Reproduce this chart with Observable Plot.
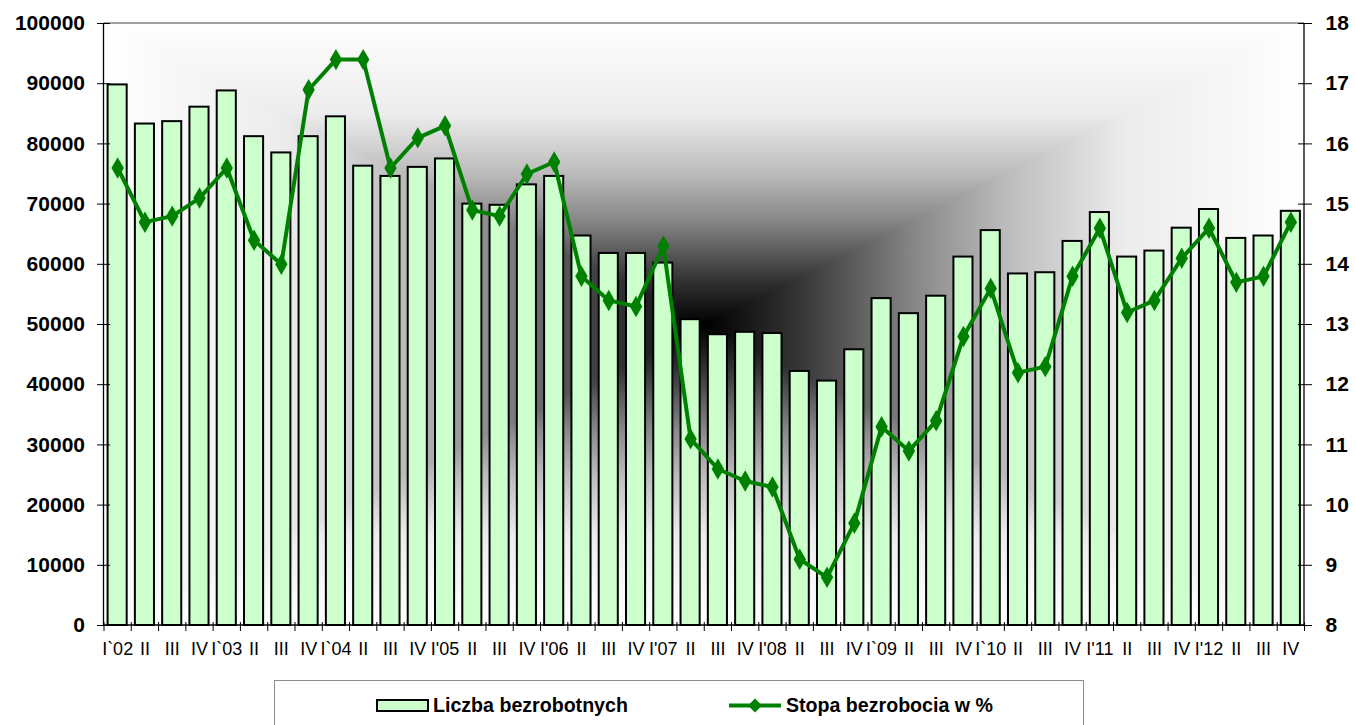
<!DOCTYPE html>
<html>
<head>
<meta charset="utf-8">
<script src="https://cdn.jsdelivr.net/npm/d3@7"></script>
<script src="https://cdn.jsdelivr.net/npm/@observablehq/plot@0.6"></script>
<style>
  body { margin: 0; background: #fff; font-family: "Liberation Sans", Arial, sans-serif; }
  #wrap { position: relative; width: 1355px; height: 725px; overflow: hidden; }
  #legend { position: absolute; left: 274px; top: 680px; width: 810px; height: 60px; border: 1px solid #8c8c8c; background: #fff; box-sizing: border-box; }
</style>
</head>
<body>
<div id="wrap">
  <div id="chart"></div>
  <div id="legend"></div>
</div>
<script>
// ---- data ----
const labels = ["I`02","II","III","IV","I`03","II","III","IV","I`04","II","III","IV",
  "I'05","II","III","IV","I'06","II","III","IV","I'07","II","III","IV",
  "I'08","II","III","IV","I`09","II","III","IV","I`10","II","III","IV",
  "I'11","II","III","IV","I'12","II","III","IV"];
const unemployed = [89800,83300,83700,86100,88800,81200,78500,81200,84500,76300,
  74600,76100,77500,70000,69800,73200,74600,64700,61800,61800,
  60200,50800,48300,48700,48500,42200,40600,45800,54300,51800,
  54700,61200,65600,58400,58600,63800,68600,61200,62200,66000,
  69100,64300,64700,68800];
const rate = [15.6,14.7,14.8,15.1,15.6,14.4,14.0,16.9,17.4,17.4,
  15.6,16.1,16.3,14.9,14.8,15.5,15.7,13.8,13.4,13.3,
  14.3,11.1,10.6,10.4,10.3,9.1,8.8,9.7,11.3,10.9,
  11.4,12.8,13.6,12.2,12.3,13.8,14.6,13.2,13.4,14.1,
  14.6,13.7,13.8,14.7];
const leftTicks = [0,10000,20000,30000,40000,50000,60000,70000,80000,90000,100000];
const rightTicks = [8,9,10,11,12,13,14,15,16,17,18];
const seriesNames = ["Liczba bezrobotnych", "Stopa bezrobocia w %"];

// right axis (rate 8..18) mapped onto the left scale (0..100000)
const rateToY = r => (r - 8) * 10000;
const yToRate = v => Math.round(v / 10000 + 8);

const data = labels.map((l, i) => ({i, label: l, count: unemployed[i], rate: rate[i]}));
const idx = d3.range(labels.length);

const W = 1355, H = 670, mL = 103.5, mR = 51, mT = 23, mB = 45;
const step = (W - mL - mR) / labels.length;

// background: rectangular "from centre" gradient
function background(index, scales, values, dim) {
  const L = dim.marginLeft, R = dim.width - dim.marginRight, T = dim.marginTop, B = dim.height - dim.marginBottom;
  const cx = 706, cy = 325;
  const g = d3.create("svg:g");
  const defs = g.append("defs");
  const stops = [[0,"#000"],[0.15,"#333"],[0.35,"#888"],[0.5,"#bbb"],[0.7,"#ececec"],[1,"#fff"]];
  const parts = [
    {id:"gT", x1:cx, y1:cy, x2:cx, y2:T, pts:[[cx,cy],[L,T],[R,T]]},
    {id:"gB", x1:cx, y1:cy, x2:cx, y2:B, pts:[[cx,cy],[L,B],[R,B]]},
    {id:"gL", x1:cx, y1:cy, x2:L, y2:cy, pts:[[cx,cy],[L,T],[L,B]]},
    {id:"gR", x1:cx, y1:cy, x2:R, y2:cy, pts:[[cx,cy],[R,T],[R,B]]}
  ];
  g.append("rect").attr("x", L).attr("y", T).attr("width", R - L).attr("height", B - T).attr("fill", "#aaa");
  for (const p of parts) {
    const lg = defs.append("linearGradient").attr("id", p.id).attr("gradientUnits", "userSpaceOnUse")
      .attr("x1", p.x1).attr("y1", p.y1).attr("x2", p.x2).attr("y2", p.y2);
    for (const [o, c] of stops) lg.append("stop").attr("offset", o).attr("stop-color", c);
    g.append("polygon").attr("points", p.pts.map(q => q.join(",")).join(" "))
      .attr("fill", `url(#${p.id})`).attr("stroke", `url(#${p.id})`).attr("stroke-width", 1);
  }
  return g.node();
}

function axisLines(index, scales, values, dim) {
  const L = dim.marginLeft, R = dim.width - dim.marginRight, T = dim.marginTop, B = dim.height - dim.marginBottom;
  const g = d3.create("svg:g").attr("fill", "none");
  g.append("line").attr("x1", L).attr("x2", R).attr("y1", T).attr("y2", T).attr("stroke", "#808080").attr("stroke-width", 1.5);
  g.append("line").attr("x1", L).attr("x2", L).attr("y1", T).attr("y2", B).attr("stroke", "#000").attr("stroke-width", 1.3);
  g.append("line").attr("x1", R).attr("x2", R).attr("y1", T).attr("y2", B).attr("stroke", "#000").attr("stroke-width", 1.3);
  g.append("line").attr("x1", L).attr("x2", R).attr("y1", B).attr("y2", B).attr("stroke", "#000").attr("stroke-width", 1.3);
  return g.node();
}

const blank = () => "";

const chart = Plot.plot({
  width: W, height: H,
  marginLeft: mL, marginRight: mR, marginTop: mT, marginBottom: mB,
  style: {fontFamily: "'Liberation Sans', Arial, sans-serif", background: "#fff", overflow: "visible", color: "#000"},
  x: {type: "band", domain: idx, paddingInner: 0.3, paddingOuter: 0.15, align: 0.5, round: false, axis: null},
  y: {domain: [0, 100000], axis: null},
  marks: [
    background,
    Plot.barY(data, {x: "i", y: "count", fill: "#ccffcc", stroke: "#000", strokeWidth: 2}),
    axisLines,
    // left axis: crossing ticks + labels
    Plot.axisY({ticks: leftTicks, tickSize: 13, dx: 6.5, tickFormat: blank, stroke: "#000", label: null}),
    Plot.axisY({ticks: leftTicks, tickSize: 0, tickPadding: 19, tickFormat: d => String(d),
      fontSize: 21, fontWeight: "bold", fill: "#000", label: null}),
    // right axis
    Plot.axisY({anchor: "right", ticks: rightTicks.map(rateToY), tickSize: 14, dx: -7, tickFormat: blank, stroke: "#000", label: null}),
    Plot.axisY({anchor: "right", ticks: rightTicks.map(rateToY), tickSize: 0, tickPadding: 21,
      tickFormat: yToRate, fontSize: 21, fontWeight: "bold", fill: "#000", label: null}),
    // x axis: ticks at category boundaries, labels at centres
    Plot.axisX({ticks: idx, tickSize: 9, dx: -step / 2, dy: -3, tickFormat: blank, stroke: "#000", label: null}),
    Plot.axisX({ticks: [idx[idx.length - 1]], tickSize: 9, dx: step / 2, dy: -3, tickFormat: blank, stroke: "#000", label: null}),
    Plot.axisX({ticks: idx, tickSize: 0, tickPadding: 17, tickFormat: i => labels[i], fontSize: 18, fill: "#000", label: null}),
    Plot.line(data, {x: "i", y: d => rateToY(d.rate), stroke: "#008000", strokeWidth: 4, curve: "linear"}),
    Plot.dot(data, {x: "i", y: d => rateToY(d.rate), symbol: "diamond", r: 6.5, fill: "#008000", stroke: "none"})
  ]
});
document.getElementById("chart").appendChild(chart);

// legend
const lg = d3.select("#legend").append("svg").attr("width", 810).attr("height", 60)
  .style("font-family", "'Liberation Sans', Arial, sans-serif");
lg.append("rect").attr("x", 102).attr("y", 19).attr("width", 51).attr("height", 11)
  .attr("fill", "#ccffcc").attr("stroke", "#000").attr("stroke-width", 2);
lg.append("text").attr("x", 158).attr("y", 24.5).attr("dy", "0.35em")
  .attr("font-size", 19.6).attr("font-weight", "bold").text(seriesNames[0]);
lg.append("line").attr("x1", 454).attr("x2", 506).attr("y1", 24.5).attr("y2", 24.5)
  .attr("stroke", "#008000").attr("stroke-width", 4);
lg.append("path").attr("d", "M480,17.5 L487,24.5 L480,31.5 L473,24.5 Z").attr("fill", "#008000");
lg.append("text").attr("x", 511).attr("y", 24.5).attr("dy", "0.35em")
  .attr("font-size", 19.6).attr("font-weight", "bold").text(seriesNames[1]);
</script>
</body>
</html>
